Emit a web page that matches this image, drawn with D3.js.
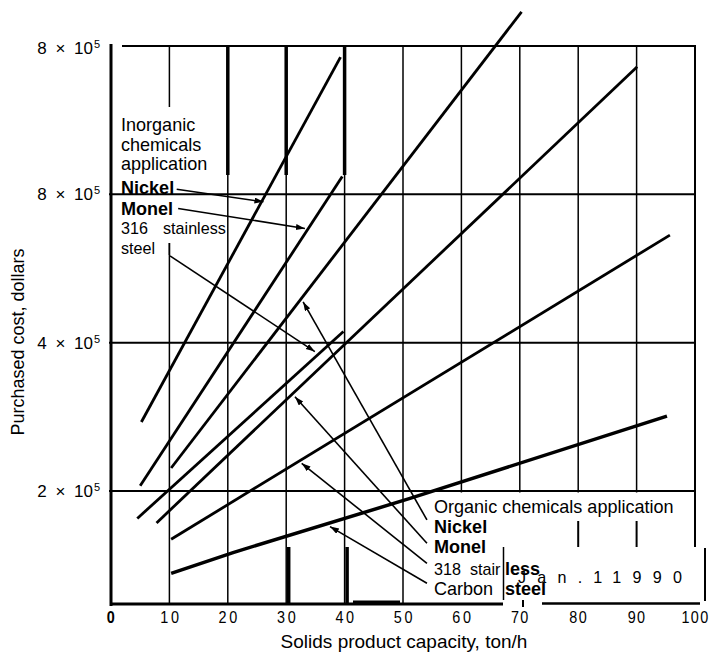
<!DOCTYPE html>
<html><head><meta charset="utf-8">
<script src="https://cdn.jsdelivr.net/npm/d3@7"></script>
<style>
html,body{margin:0;padding:0;background:#fff;}
svg{display:block;}
text{font-family:"Liberation Sans",Arial,Helvetica,sans-serif;fill:#000;}
</style></head>
<body><svg id="chart" width="712" height="653"></svg>
<script>
// ---------- data ----------
const xTicks = [0,10,20,30,40,50,60,70,80,90,100];
const xTickLabels = ["0","10","20","30","40","50","60","70","80","90","100"];
const yTicks = [200000,400000,600000,800000];
const yTickLabels = ["2 × 10","4 × 10","8 × 10","8 × 10"];
const yTickExp = ["5","5","5","5"];

// Inorganic chemicals application
const inorgNickelCap  = [5.2, 39.3];
const inorgNickelCost = [293000, 785000];
const inorgMonelCap   = [5.0, 39.6];
const inorgMonelCost  = [207000, 624000];
const inorg316Cap     = [4.5, 39.8];
const inorg316Cost    = [163000, 415000];
// Organic chemicals application
const orgNickelCap    = [10.3, 70.3];
const orgNickelCost   = [231000, 846000];
const orgMonelCap     = [7.8, 90.1];
const orgMonelCost    = [157000, 772000];
const org318Cap       = [10.3, 95.7];
const org318Cost      = [135000, 545000];
const carbonCap       = [10.3, 20.9, 51.2, 95.2];
const carbonCost      = [89000, 117000, 190000, 301000];

// leader lines (label end -> arrow tip), in data units
const leaderFromCap  = [11.25, 11.5, 10.1, 54.1, 54.1, 54.1, 54.1];
const leaderFromCost = [606800, 581000, 517000, 161000, 129500, 102500, 75600];
const leaderToCap    = [26.1, 33.2, 34.9, 32.9, 31.5, 32.65, 37.5];
const leaderToCost   = [590000, 554000, 388000, 455000, 327000, 237300, 152000];

const inorgLabels = ["Inorganic","chemicals","application","Nickel","Monel","316","steel"];
const orgLabels = ["Organic chemicals application","Nickel","Monel","318  stair","Carbon"];

// ---------- scales ----------
const svg = d3.select("#chart");
const x = d3.scaleLinear().domain([0,100]).range([111,695]);
const y = d3.scaleLinear().domain([200000,800000]).range([491,46]);
const yBottom = 604;

function seg(x1,y1,x2,y2,w){
  svg.append("line").attr("x1",x1).attr("y1",y1).attr("x2",x2).attr("y2",y2)
    .attr("stroke","#000").attr("stroke-width",w);
}

// ---------- grid ----------
xTicks.forEach(t=>{
  if(t===0) return;
  const px = x(t);
  if(t===10){ seg(px,y(800000),px,107,1.5); seg(px,243,px,yBottom,1.5); }
  else if(t===100){ seg(px,y(800000),px,548,2); }
  else seg(px,y(800000),px,yBottom,1.5);
});
// thick top portions
[20,30,40].forEach(t=>seg(x(t),y(800000),x(t),175,3.5));
// thick bottom portions
[30,40].forEach(t=>seg(x(t)+2.5,547,x(t)+2.5,yBottom,3.5));

yTicks.forEach(t=>{
  if(t===800000) seg(122,y(t),x(100)+1,y(t),2);
  else seg(x(0)-2,y(t),x(100)+1,y(t),2);
});

// white area behind organic labels
svg.append("rect").attr("x",430).attr("y",y(200000)+1.5).attr("width",270).attr("height",yBottom-y(200000)-1)
  .attr("fill","#fff");
seg(x(100),y(200000),x(100),548,2);
[80,90].forEach(t=>seg(x(t),521,x(t),547,2));

// axes
seg(x(0),44,x(0),yBottom+2,3);
seg(x(0)-1,yBottom,503,yBottom,3);
seg(353,602.5,400,602.5,4);

// ---------- data lines ----------
const line = d3.line().x(d=>x(d[0])).y(d=>y(d[1]));
const series = [
  [inorgNickelCap,inorgNickelCost,2.8],
  [inorgMonelCap,inorgMonelCost,2.8],
  [inorg316Cap,inorg316Cost,2.8],
  [orgNickelCap,orgNickelCost,2.8],
  [orgMonelCap,orgMonelCost,2.8],
  [org318Cap,org318Cost,2.8],
  [carbonCap,carbonCost,3.5]
];
series.forEach(s=>{
  const pts = s[0].map((c,i)=>[c,s[1][i]]);
  svg.append("path").attr("d",line(pts)).attr("fill","none")
    .attr("stroke","#000").attr("stroke-width",s[2]).attr("stroke-linecap","butt");
});

// ---------- leaders ----------
svg.append("defs").append("marker").attr("id","ah")
  .attr("markerUnits","userSpaceOnUse").attr("markerWidth",10).attr("markerHeight",8)
  .attr("refX",9).attr("refY",3).attr("orient","auto")
  .append("path").attr("d","M0,0 L9,3 L0,6 Z").attr("fill","#000");
leaderFromCap.forEach((c,i)=>{
  svg.append("line").attr("x1",x(c)).attr("y1",y(leaderFromCost[i]))
    .attr("x2",x(leaderToCap[i])).attr("y2",y(leaderToCost[i]))
    .attr("stroke","#000").attr("stroke-width",1.6).attr("marker-end","url(#ah)");
});

// ---------- text ----------
function label(txt,px,py,size,weight,sx,ls){
  svg.append("text").attr("transform",`translate(${px},${py}) scale(${sx||0.9},1)`)
    .attr("font-size",size).attr("font-weight",weight||"normal")
    .attr("letter-spacing",ls||0).style("white-space","pre").text(txt);
}
// inorganic block
const inorgBase = [131,151,170,193.5,215,234,254];
inorgLabels.forEach((t,i)=>{
  const bold = (t==="Nickel"||t==="Monel");
  const small = (t==="316"||t==="steel");
  label(t,121,inorgBase[i], small?17:19, bold?"bold":"normal", small?0.95:0.95);
});
label("stainless",163,234,17,"normal",0.95);
seg(x(10),243,x(10),255,1.5);

// organic block
const orgBase = [512.5,532.5,552.5,575,595];
orgLabels.forEach((t,i)=>{
  const bold = (t==="Nickel"||t==="Monel");
  const small = (t==="318  stair");
  label(t,434,orgBase[i], small?17:19, bold?"bold":"normal", 0.95);
});

// patch box
svg.append("rect").attr("x",503).attr("y",547).attr("width",204).attr("height",55).attr("fill","#fff");
seg(503.5,547,503.5,600,1.5);
seg(705,548,705,601,2);
seg(542,603.5,700,603.5,2.5);
seg(523,600,523,607,2);
label("Jan.11990",518,583,17,"normal",0.95,11.8);
label("less",505,575,19,"bold",0.95);
label("steel",505,595,19,"bold",0.95);

// x tick labels
xTicks.forEach((t,i)=>{
  const spaced = t>0 && t<=60;
  svg.append("text").attr("transform",`translate(${x(t)+(spaced?1.5:0.5)},622.5) scale(0.9,1)`)
    .attr("text-anchor","middle").attr("font-size",16)
    .attr("font-weight",t===0?"bold":"normal")
    .attr("letter-spacing",spaced?3:1.5).text(xTickLabels[i]);
});

// y tick labels
yTicks.forEach((t,i)=>{
  const yy = y(t) + (t===800000?8:6);
  svg.append("text").attr("x",93).attr("y",yy).attr("text-anchor","end")
    .attr("font-size",17).attr("word-spacing",4).text(yTickLabels[i]);
  svg.append("text").attr("x",94).attr("y",yy-6).attr("font-size",11).text(yTickExp[i]);
});

// axis titles
svg.append("text").attr("transform","translate(404,648)")
  .attr("text-anchor","middle").attr("font-size",19).text("Solids product capacity, ton/h");
svg.append("text").attr("transform","translate(24,342) rotate(-90)")
  .attr("text-anchor","middle").attr("font-size",18).text("Purchased cost, dollars");
</script></body></html>
